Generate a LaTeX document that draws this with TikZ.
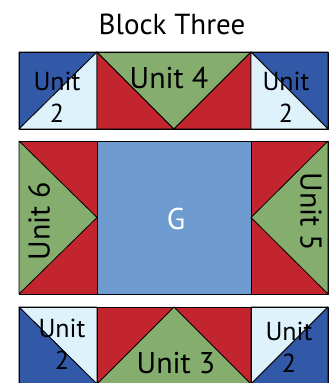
\documentclass[tikz,border=0pt]{standalone}
\usepackage{fontspec}
\setmainfont{PT Sans}
\definecolor{qblue}{RGB}{49,89,168}
\definecolor{qlight}{RGB}{222,242,252}
\definecolor{qred}{RGB}{195,37,46}
\definecolor{qgreen}{RGB}{132,173,110}
\definecolor{qmid}{RGB}{110,155,208}
\tikzset{
  patch/.style={draw=black, line width=0.8pt, line join=round},
  label/.style={font=\fontsize{30}{36}\selectfont, align=center, inner sep=0pt},
  small label/.style={font=\fontsize{26}{32}\selectfont, align=center, inner sep=0pt}
}
\begin{document}
\begin{tikzpicture}[x=1pt, y=-1pt]
  \useasboundingbox (0,0) rectangle (336,383);
  % Title
  \node[font=\fontsize{29}{34}\selectfont, inner sep=0pt] (title) at (172,24) {Block Three};

  % Top row
  \fill[patch, fill=qblue] (19,52) -- (97,52) -- (19,129) -- cycle;
  \fill[patch, fill=qlight] (97,52) -- (97,129) -- (19,129) -- cycle;
  \filldraw[patch, fill=qred] (97,52) -- (174,129) -- (97,129) -- cycle;
  \filldraw[patch, fill=qgreen] (97,52) -- (251,52) -- (174,129) -- cycle;
  \filldraw[patch, fill=qred] (251,52) -- (251,129) -- (174,129) -- cycle;
  \fill[patch, fill=qblue] (251,52) -- (328,52) -- (328,129) -- cycle;
  \fill[patch, fill=qlight] (251,52) -- (328,129) -- (251,129) -- cycle;
  \draw[patch] (19,52) rectangle (328,129);
  \node[small label] (tl) at (57,97) {Unit\\2};
  \node[label] (tm) at (169,78) {Unit 4};
  \node[small label] (tr) at (286,97) {Unit\\2};

  % Middle row
  \filldraw[patch, fill=qred] (19,141) -- (97,141) -- (97,294) -- (19,294) -- cycle;
  \filldraw[patch, fill=qgreen] (19,141) -- (97,217.5) -- (19,294) -- cycle;
  \filldraw[patch, fill=qmid] (97,141) rectangle (251,294);
  \filldraw[patch, fill=qred] (251,141) -- (328,141) -- (328,294) -- (251,294) -- cycle;
  \filldraw[patch, fill=qgreen] (328,141) -- (251,217.5) -- (328,294) -- cycle;
  \node[label, rotate=90] (ml) at (39,221) {Unit 6};
  \node[label, text=white] (mm) at (176,219) {G};
  \node[label, rotate=-90] (mr) at (311,212) {Unit 5};

  % Bottom row
  \fill[patch, fill=qlight] (19,307) -- (97,307) -- (97,384) -- cycle;
  \fill[patch, fill=qblue] (19,307) -- (97,384) -- (19,384) -- cycle;
  \filldraw[patch, fill=qred] (97,307) rectangle (251,384);
  \filldraw[patch, fill=qgreen] (174,307) -- (251,384) -- (97,384) -- cycle;
  \fill[patch, fill=qlight] (251,307) -- (328,307) -- (251,384) -- cycle;
  \fill[patch, fill=qblue] (328,307) -- (328,384) -- (251,384) -- cycle;
  \draw[patch] (19,307) rectangle (328,384);
  \draw[patch] (97,307) -- (97,384) (251,307) -- (251,384);
  \node[small label] (bl) at (62,344) {Unit\\2};
  \node[label] (bm) at (176,363) {Unit 3};
  \node[small label] (br) at (289,347) {Unit\\2};
\end{tikzpicture}
\end{document}
